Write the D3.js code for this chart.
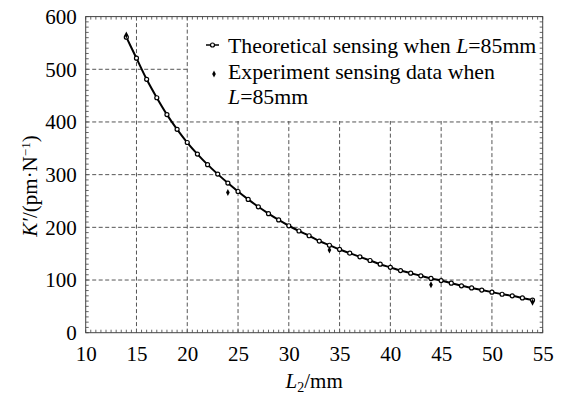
<!DOCTYPE html>
<html>
<head>
<meta charset="utf-8">
<script src="https://d3js.org/d3.v7.min.js"></script>
<style>
body { margin: 0; background: #fff; }
svg text { font-family: "Liberation Serif", "Times New Roman", serif; fill: #000; }
</style>
</head>
<body>
<div id="chart"></div>
<script>
// L2 in mm, theoretical K' (pm/N)
var theoryL2 = [14, 15, 16, 17, 18, 19, 20, 21, 22, 23, 24, 25, 26, 27, 28, 29, 30, 31, 32, 33, 34,
                35, 36, 37, 38, 39, 40, 41, 42, 43, 44, 45, 46, 47, 48, 49, 50, 51, 52, 53, 54];
var theoryK = [561, 521, 481, 446, 414, 386, 361, 339, 319, 301, 284, 268, 253, 239, 226, 214, 203,
               193, 184, 174, 166, 158, 151, 144, 137, 130, 124, 118, 113, 108, 103, 99, 94, 89, 85,
               81, 77, 73, 70, 66, 62];
var expL2 = [14, 24, 34, 44, 54];
var expK = [565, 266, 157, 91, 58];

var xTicks = [10, 15, 20, 25, 30, 35, 40, 45, 50, 55];
var yTicks = [0, 100, 200, 300, 400, 500, 600];

var W = 565, H = 399;
var margin = {top: 16.6, right: 22.3, bottom: 66.3, left: 85.7};
var width = W - margin.left - margin.right,
    height = H - margin.top - margin.bottom;

var svg = d3.select("#chart").append("svg")
    .attr("width", W)
    .attr("height", H);
var g = svg.append("g")
    .attr("transform", "translate(" + margin.left + "," + margin.top + ")");

var x = d3.scaleLinear().domain([10, 55]).range([0, width]);
var y = d3.scaleLinear().domain([0, 600]).range([height, 0]);

// dashed grid
g.selectAll(".vgrid").data(xTicks.slice(1, -1)).enter().append("line")
    .attr("x1", d => x(d)).attr("x2", d => x(d))
    .attr("y1", 0).attr("y2", height)
    .attr("stroke", "#555").attr("stroke-width", 1).attr("stroke-dasharray", "4,2.5");
g.selectAll(".hgrid").data(yTicks.slice(1, -1)).enter().append("line")
    .attr("y1", d => y(d)).attr("y2", d => y(d))
    .attr("x1", 0).attr("x2", width)
    .attr("stroke", "#555").attr("stroke-width", 1).attr("stroke-dasharray", "4,2.5");

// legend background hides the grid behind it
g.append("rect")
    .attr("x", x(20) + 1).attr("y", 0)
    .attr("width", width - x(20) - 1).attr("height", y(400) - 1)
    .attr("fill", "#fff");

// minor ticks, inward on all four sides
var xMinor = d3.range(10, 55.01, 0.5);
var yMinor = d3.range(0, 600.1, 10);
var tk = g.append("g").attr("stroke", "#666").attr("stroke-width", 1);
xMinor.forEach(function(v) {
  tk.append("line").attr("x1", x(v)).attr("x2", x(v)).attr("y1", height).attr("y2", height - 3);
  tk.append("line").attr("x1", x(v)).attr("x2", x(v)).attr("y1", 0).attr("y2", 3);
});
yMinor.forEach(function(v) {
  tk.append("line").attr("y1", y(v)).attr("y2", y(v)).attr("x1", 0).attr("x2", 3);
  tk.append("line").attr("y1", y(v)).attr("y2", y(v)).attr("x1", width).attr("x2", width - 3);
});

// frame
g.append("rect").attr("width", width).attr("height", height)
    .attr("fill", "none").attr("stroke", "#444").attr("stroke-width", 1);

// axes (labels only)
var xAxis = g.append("g").attr("transform", "translate(0," + height + ")")
    .call(d3.axisBottom(x).tickValues(xTicks).tickSize(0).tickPadding(13));
var yAxis = g.append("g")
    .call(d3.axisLeft(y).tickValues(yTicks).tickSize(0).tickPadding(9));
[xAxis, yAxis].forEach(function(a) {
  a.select(".domain").remove();
  a.selectAll("text").style("font-size", "21px").attr("font-family", "Liberation Serif");
});

// theoretical curve
var pts = theoryL2.map((d, i) => [d, theoryK[i]]);
g.append("path").datum(pts)
    .attr("fill", "none").attr("stroke", "#000").attr("stroke-width", 2)
    .attr("d", d3.line().x(d => x(d[0])).y(d => y(d[1])).curve(d3.curveMonotoneX));
g.selectAll(".tp").data(pts).enter().append("circle")
    .attr("cx", d => x(d[0])).attr("cy", d => y(d[1])).attr("r", 2)
    .attr("fill", "#fff").attr("stroke", "#000").attr("stroke-width", 1.2);

// experimental points (small diamonds)
var diamond = "M0,-3.5L1.8,0L0,3.5L-1.8,0Z";
g.selectAll(".ep").data(expL2).enter().append("path")
    .attr("transform", (d, i) => "translate(" + x(d) + "," + y(expK[i]) + ")")
    .attr("d", diamond).attr("fill", "#000");

// legend
var lg = svg.append("g");
lg.append("line").attr("x1", 206).attr("x2", 219).attr("y1", 45).attr("y2", 45)
    .attr("stroke", "#000").attr("stroke-width", 1.5);
lg.append("circle").attr("cx", 212.5).attr("cy", 45).attr("r", 2)
    .attr("fill", "#fff").attr("stroke", "#000").attr("stroke-width", 1.2);
lg.append("path").attr("transform", "translate(214,74)").attr("d", diamond).attr("fill", "#000");

var t1 = lg.append("text").attr("x", 228).attr("y", 53).style("font-size", "21.8px");
t1.append("tspan").text("Theoretical sensing when ");
t1.append("tspan").attr("font-style", "italic").text("L");
t1.append("tspan").text("=85mm");
lg.append("text").attr("x", 228).attr("y", 79).style("font-size", "21.8px")
    .text("Experiment sensing data when");
var t3 = lg.append("text").attr("x", 228).attr("y", 104).style("font-size", "21.8px");
t3.append("tspan").attr("font-style", "italic").text("L");
t3.append("tspan").text("=85mm");

// axis titles
var xt = svg.append("text").attr("x", margin.left + width / 2).attr("y", 388)
    .attr("text-anchor", "middle").style("font-size", "21px");
xt.append("tspan").attr("font-style", "italic").text("L");
xt.append("tspan").attr("baseline-shift", "-25%").style("font-size", "14px").text("2");
xt.append("tspan").text("/mm");

var yt = svg.append("text").attr("transform", "translate(37,186) rotate(-90)")
    .attr("text-anchor", "middle").style("font-size", "21px");
yt.append("tspan").attr("font-style", "italic").text("K′");
yt.append("tspan").text("/(pm·N");
yt.append("tspan").attr("baseline-shift", "super").style("font-size", "13px").text("−1");
yt.append("tspan").text(")");
</script>
</body>
</html>
